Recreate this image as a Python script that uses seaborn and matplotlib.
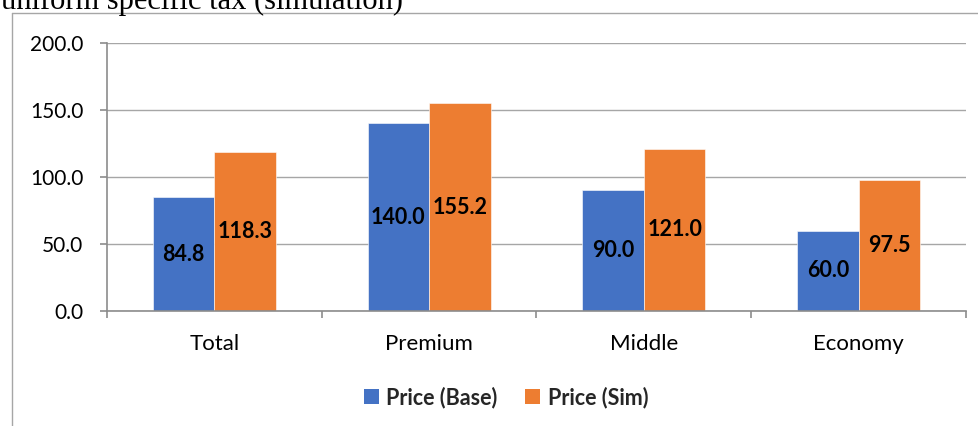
import matplotlib
matplotlib.use("Agg")
import matplotlib.pyplot as plt
import seaborn as sns
import pandas as pd
from matplotlib.lines import Line2D
from matplotlib.patches import Patch
from matplotlib.ticker import FormatStrFormatter

# Data
categories = ["Total", "Premium", "Middle", "Economy"]
price_base = [84.8, 140.0, 90.0, 60.0]
price_sim = [118.3, 155.2, 121.0, 97.5]
series_names = ["Price (Base)", "Price (Sim)"]
y_ticks = [0, 50, 100, 150, 200]
title_text = "uniform specific tax (simulation)"

colors = ["#4472C4", "#ED7D31"]

df = pd.DataFrame({
    "category": categories * 2,
    "series": [series_names[0]] * len(categories) + [series_names[1]] * len(categories),
    "price": price_base + price_sim,
})

sns.set_theme(style="white")
plt.rcParams["font.family"] = ["Lato", "DejaVu Sans"]

W, H = 979, 426
fig = plt.figure(figsize=(W / 100, H / 100), dpi=100)
fig.patch.set_facecolor("white")

# plot area in pixel terms
x0, x1, ytop, ybot = 107, 966, 43, 311
ax = fig.add_axes([x0 / W, 1 - ybot / H, (x1 - x0) / W, (ybot - ytop) / H])

sns.barplot(
    data=df, x="category", y="price", hue="series",
    order=categories, hue_order=series_names,
    palette=colors, width=0.572, saturation=1,
    edgecolor="white", linewidth=0.4, ax=ax,
)

for container in ax.containers:
    ax.bar_label(container, fmt="%.1f", label_type="center",
                 fontsize=15.5, fontweight="bold", color="black")

ax.get_legend().remove()

# axes styling
ax.set_xlim(-0.5, len(categories) - 0.5)
ax.set_ylim(0, 200)
ax.set_yticks(y_ticks)
ax.yaxis.set_major_formatter(FormatStrFormatter("%.1f"))
ax.set_xlabel("")
ax.set_ylabel("")
ax.set_axisbelow(True)
ax.yaxis.grid(True, color="#A6A6A6", linewidth=1.0)
ax.xaxis.grid(False)

for side in ["top", "right"]:
    ax.spines[side].set_visible(False)
for side in ["left", "bottom"]:
    ax.spines[side].set_color("#8C8C8C")
    ax.spines[side].set_linewidth(1.2)

ax.set_xticks([i - 0.5 for i in range(len(categories) + 1)], minor=True)
ax.tick_params(axis="x", which="major", length=0, pad=16.5, labelsize=16, labelcolor="black")
ax.tick_params(axis="x", which="minor", length=5, width=1.2, color="#8C8C8C", bottom=True)
ax.tick_params(axis="y", which="major", length=5, width=1.2, color="#8C8C8C", left=True,
               pad=12, labelsize=15, labelcolor="black")

# legend below the plot
handles = [Patch(facecolor=c, edgecolor="none") for c in colors]
fig.legend(handles, series_names, loc="center", bbox_to_anchor=(506 / W, 1 - 397.5 / H),
           ncol=2, frameon=False, prop={"family": "Lato", "weight": "bold", "size": 15.5},
           handlelength=0.7, handleheight=0.7, handletextpad=0.35, columnspacing=1.3)

# surrounding chart frame
frame_color = "#A6A6A6"
fig.add_artist(Line2D([11.5 / W, 11.5 / W], [0, 1 - 13 / H], transform=fig.transFigure,
                      color=frame_color, linewidth=1.0))
fig.add_artist(Line2D([11.5 / W, 1], [1 - 13 / H, 1 - 13 / H], transform=fig.transFigure,
                      color=frame_color, linewidth=1.0))

# heading line above the chart
fig.text(1 / W, 1 - 8.5 / H, title_text, ha="left", va="baseline",
         fontsize=22, family=["Liberation Serif", "DejaVu Serif"], color="black")

fig.savefig("out.png", dpi=100, facecolor="white")
